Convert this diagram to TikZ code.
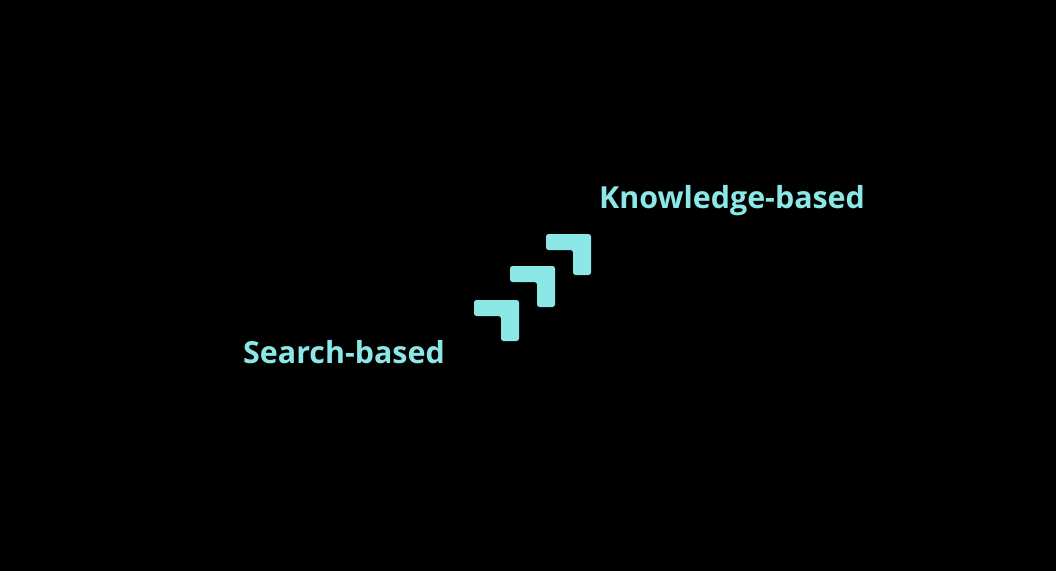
\documentclass[tikz,border=0pt]{standalone}
\usepackage{fontspec}
\setmainfont{Open Sans}
\definecolor{teal}{RGB}{139,232,230}
\tikzset{
  label/.style={text=teal, font=\fontsize{30.4}{34}\selectfont\bfseries, inner sep=0pt, anchor=base west},
  chev/.style={fill=teal, draw=none, rounded corners=2.5pt}
}
\begin{document}
\begin{tikzpicture}[x=1pt,y=-1pt]
\fill[black] (0,0) rectangle (1056,571);
\useasboundingbox (0,0) rectangle (1056,571);
\foreach \i/\x/\y in {1/474/300, 2/510/266, 3/546/234}{
  \fill[chev] (\x,\y) -- ++(45,0) -- ++(0,41) -- ++(-18,0) -- ++(0,-25) -- ++(-27,0) -- cycle;
}
\node[label] (search) at (243,363) {Search-based};
\node[label] (knowledge) at (599,208) {Knowledge-based};
\end{tikzpicture}
\end{document}
